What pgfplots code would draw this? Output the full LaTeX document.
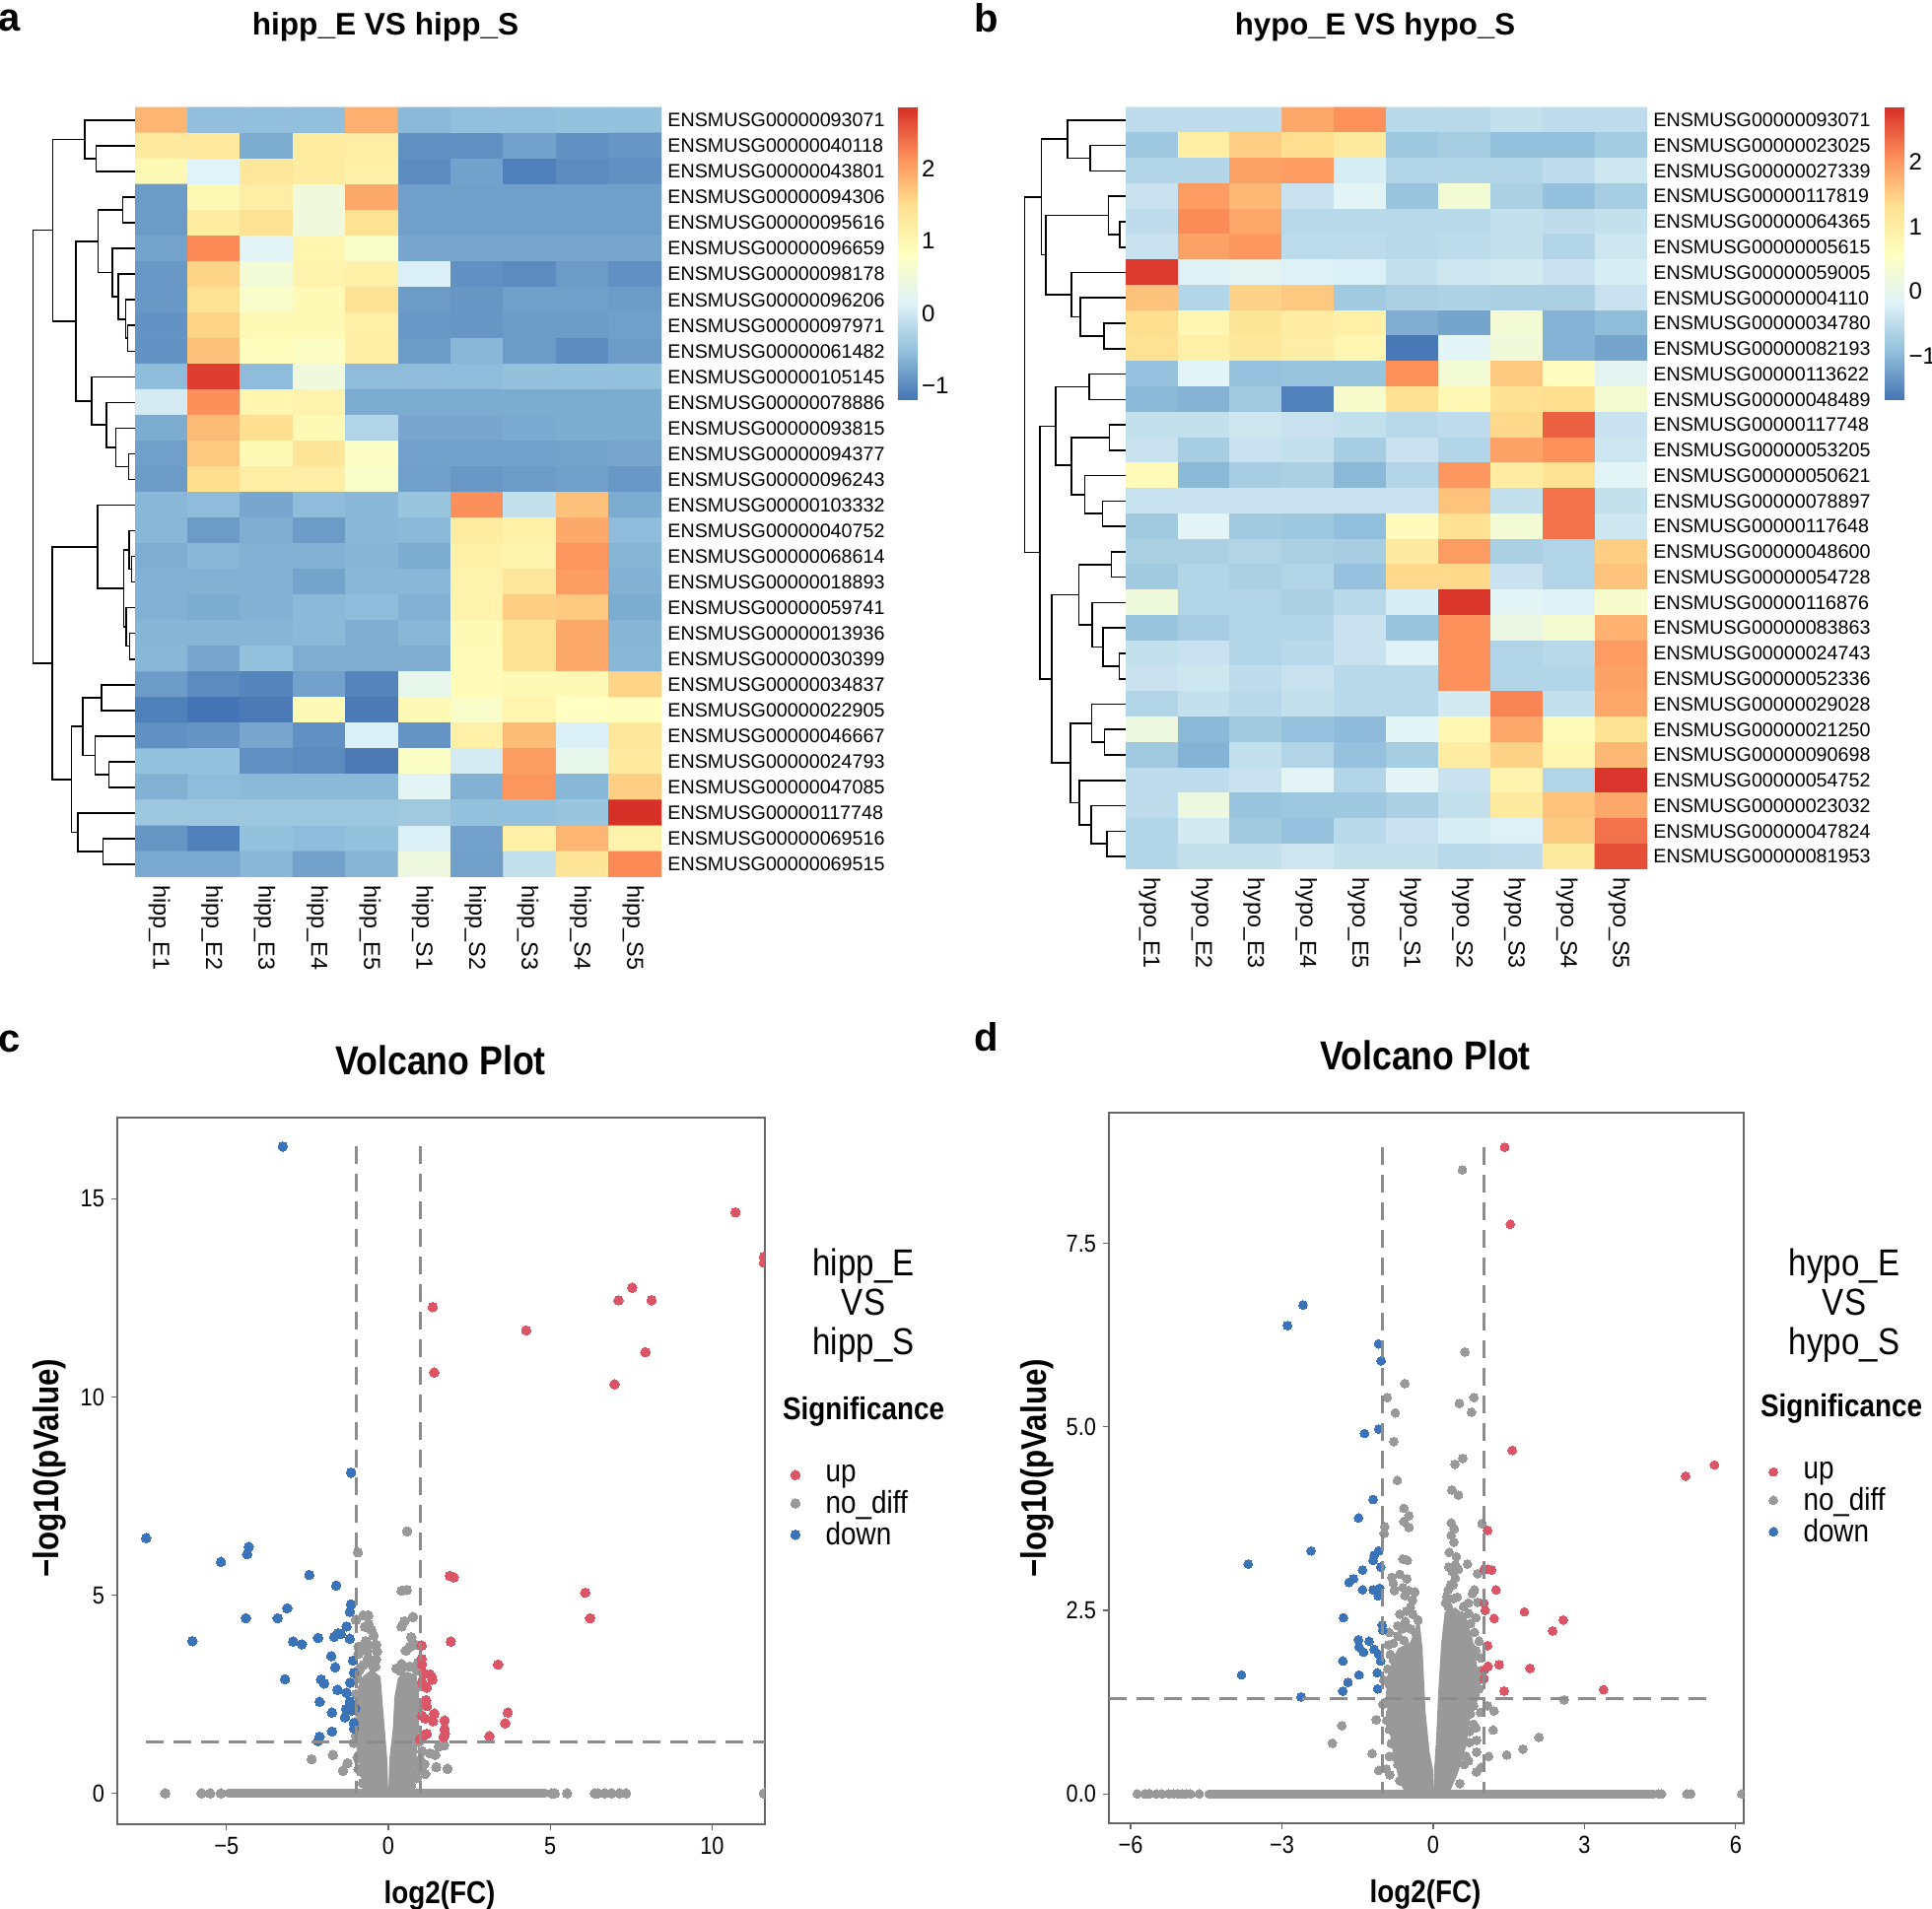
\documentclass[border=0pt]{standalone}
\usepackage{fontspec}
\usepackage{graphicx}
\usepackage{pgfplots}
\usepackage{pgfplotstable}
\pgfplotsset{compat=1.18}
\setmainfont{Liberation Sans}
\newfontfamily\cond[FakeStretch=0.87]{Liberation Sans}
\newcommand{\fs}[1]{\fontsize{#1}{#1}\selectfont}
% text placed by its position in reference pixels
\newcommand{\T}[5][]{\node[font=#4,#1] at ({#2*0.5pt},{(1937-#3)*0.5pt}) {#5};}
\definecolor{volgray}{HTML}{999999}
\definecolor{volblue}{HTML}{3B73B8}
\definecolor{volred}{HTML}{DB5567}
\definecolor{dashgray}{HTML}{8C8C8C}
\definecolor{axgray}{HTML}{666666}

% heatmap values, one row per gene
\pgfplotstableread[row sep=\\]{v\\
1.85\\-0.52\\-0.52\\-0.52\\1.9\\-0.58\\-0.52\\-0.52\\-0.5\\-0.5\\
1.3\\1.3\\-0.7\\1.25\\1.2\\-0.95\\-0.95\\-0.8\\-0.95\\-0.9\\
0.95\\0.15\\1.35\\1.25\\1.15\\-1.0\\-0.8\\-1.1\\-1.0\\-0.95\\
-0.85\\0.95\\1.2\\0.5\\1.95\\-0.82\\-0.82\\-0.82\\-0.82\\-0.82\\
-0.85\\1.25\\1.45\\0.5\\1.45\\-0.82\\-0.82\\-0.82\\-0.82\\-0.82\\
-0.78\\2.2\\0.2\\1.05\\0.7\\-0.75\\-0.75\\-0.75\\-0.75\\-0.75\\
-0.88\\1.6\\0.55\\1.1\\1.15\\0.1\\-0.95\\-1.0\\-0.85\\-0.95\\
-0.88\\1.45\\0.7\\0.95\\1.45\\-0.85\\-0.9\\-0.82\\-0.82\\-0.85\\
-0.93\\1.6\\0.95\\0.95\\1.15\\-0.88\\-0.9\\-0.85\\-0.85\\-0.82\\
-0.93\\1.75\\0.85\\0.75\\1.2\\-0.85\\-0.6\\-0.85\\-1.0\\-0.85\\
-0.55\\2.75\\-0.55\\0.5\\-0.55\\-0.55\\-0.55\\-0.5\\-0.5\\-0.5\\
0.05\\2.15\\1.05\\1.1\\-0.7\\-0.7\\-0.7\\-0.7\\-0.7\\-0.7\\
-0.7\\1.8\\1.5\\0.95\\-0.25\\-0.75\\-0.75\\-0.72\\-0.7\\-0.7\\
-0.82\\1.7\\0.95\\1.4\\0.75\\-0.8\\-0.8\\-0.8\\-0.78\\-0.75\\
-0.85\\1.5\\1.2\\1.2\\0.7\\-0.82\\-0.88\\-0.85\\-0.82\\-0.88\\
-0.6\\-0.55\\-0.75\\-0.55\\-0.6\\-0.45\\2.15\\-0.1\\1.75\\-0.7\\
-0.6\\-0.85\\-0.68\\-0.85\\-0.6\\-0.58\\1.25\\1.15\\1.95\\-0.55\\
-0.68\\-0.6\\-0.65\\-0.65\\-0.62\\-0.7\\1.15\\1.1\\2.1\\-0.62\\
-0.65\\-0.65\\-0.65\\-0.78\\-0.6\\-0.6\\1.1\\1.35\\2.05\\-0.65\\
-0.65\\-0.7\\-0.65\\-0.58\\-0.55\\-0.65\\1.1\\1.65\\1.7\\-0.7\\
-0.62\\-0.62\\-0.62\\-0.58\\-0.68\\-0.6\\0.95\\1.45\\1.95\\-0.62\\
-0.6\\-0.75\\-0.5\\-0.68\\-0.68\\-0.68\\0.9\\1.45\\1.95\\-0.6\\
-0.85\\-1.0\\-1.05\\-0.8\\-1.05\\0.3\\0.9\\0.95\\0.95\\1.6\\
-1.1\\-1.2\\-1.15\\0.95\\-1.15\\0.95\\0.7\\1.05\\0.8\\0.85\\
-0.95\\-0.92\\-0.75\\-0.95\\0.1\\-0.92\\1.15\\1.8\\0.1\\1.35\\
-0.5\\-0.5\\-0.95\\-1.0\\-1.15\\0.75\\0.05\\2.05\\0.3\\1.3\\
-0.65\\-0.55\\-0.58\\-0.58\\-0.58\\0.2\\-0.65\\2.1\\-0.6\\1.65\\
-0.42\\-0.42\\-0.42\\-0.42\\-0.42\\-0.4\\-0.5\\-0.5\\-0.45\\2.85\\
-0.9\\-1.1\\-0.5\\-0.55\\-0.5\\0.1\\-0.8\\1.15\\1.85\\1.1\\
-0.72\\-0.72\\-0.6\\-0.8\\-0.62\\0.45\\-0.82\\-0.1\\1.4\\2.2\\
}\heatA

\pgfplotstableread[row sep=\\]{v\\
-0.5\\-0.5\\-0.5\\1.85\\2.05\\-0.55\\-0.55\\-0.45\\-0.5\\-0.5\\
-0.8\\1.0\\1.5\\1.35\\1.1\\-0.8\\-0.72\\-0.9\\-0.9\\-0.75\\
-0.6\\-0.6\\1.9\\1.95\\-0.25\\-0.6\\-0.6\\-0.6\\-0.5\\-0.35\\
-0.4\\1.95\\1.7\\-0.4\\-0.12\\-0.85\\0.3\\-0.68\\-0.9\\-0.72\\
-0.5\\2.1\\1.85\\-0.55\\-0.55\\-0.55\\-0.55\\-0.45\\-0.5\\-0.45\\
-0.4\\1.9\\2.0\\-0.52\\-0.52\\-0.55\\-0.52\\-0.45\\-0.62\\-0.35\\
2.75\\-0.2\\-0.08\\-0.2\\-0.22\\-0.45\\-0.35\\-0.3\\-0.4\\-0.25\\
1.6\\-0.6\\1.45\\1.55\\-0.77\\-0.68\\-0.65\\-0.68\\-0.68\\-0.4\\
1.35\\0.8\\1.2\\1.05\\0.95\\-1.1\\-1.2\\0.3\\-1.05\\-0.95\\
1.3\\0.95\\1.15\\1.0\\0.8\\-1.65\\-0.12\\0.25\\-1.05\\-1.2\\
-0.88\\-0.12\\-0.88\\-0.85\\-0.85\\2.05\\0.3\\1.55\\0.55\\-0.08\\
-1.0\\-1.05\\-0.77\\-1.55\\0.4\\1.3\\0.75\\1.3\\1.35\\0.35\\
-0.45\\-0.45\\-0.35\\-0.4\\-0.45\\-0.55\\-0.5\\1.4\\2.45\\-0.4\\
-0.4\\-0.72\\-0.4\\-0.45\\-0.72\\-0.4\\-0.62\\1.9\\2.05\\-0.35\\
0.7\\-1.0\\-0.72\\-0.68\\-1.0\\-0.6\\2.0\\1.05\\1.25\\-0.12\\
-0.42\\-0.4\\-0.4\\-0.4\\-0.4\\-0.4\\1.6\\-0.45\\2.3\\-0.45\\
-0.77\\-0.12\\-0.77\\-0.8\\-0.92\\0.65\\1.3\\0.3\\2.3\\-0.35\\
-0.68\\-0.68\\-0.62\\-0.68\\-0.72\\1.1\\1.95\\-0.68\\-0.62\\1.5\\
-0.77\\-0.6\\-0.68\\-0.62\\-0.88\\1.4\\1.4\\-0.4\\-0.62\\1.6\\
0.2\\-0.62\\-0.62\\-0.68\\-0.55\\-0.25\\2.8\\-0.12\\-0.2\\0.4\\
-0.85\\-0.72\\-0.62\\-0.6\\-0.4\\-0.85\\2.05\\0.1\\0.35\\1.75\\
-0.45\\-0.4\\-0.62\\-0.55\\-0.4\\-0.2\\2.05\\-0.62\\-0.55\\1.95\\
-0.4\\-0.35\\-0.5\\-0.4\\-0.55\\-0.55\\2.05\\-0.6\\-0.6\\1.9\\
-0.62\\-0.45\\-0.55\\-0.45\\-0.55\\-0.55\\-0.3\\2.15\\-0.45\\1.85\\
0.15\\-1.0\\-0.77\\-0.88\\-0.97\\-0.12\\0.75\\1.85\\0.65\\1.25\\
-0.77\\-1.05\\-0.45\\-0.62\\-0.88\\-0.72\\1.05\\1.45\\0.8\\1.7\\
-0.5\\-0.5\\-0.4\\-0.12\\-0.6\\-0.12\\-0.4\\0.85\\-0.62\\2.8\\
-0.5\\0.15\\-0.85\\-0.8\\-0.8\\-0.68\\-0.45\\1.1\\1.6\\1.85\\
-0.6\\-0.3\\-0.77\\-0.88\\-0.55\\-0.4\\-0.25\\-0.2\\1.55\\2.3\\
-0.6\\-0.45\\-0.45\\-0.35\\-0.45\\-0.45\\-0.55\\-0.5\\1.1\\2.6\\
}\heatB

\pgfplotsset{
  colormap={rdylbu}{rgb255=(69,117,180) rgb255=(145,191,219) rgb255=(224,243,248) rgb255=(255,255,191) rgb255=(254,224,144) rgb255=(252,141,89) rgb255=(215,48,39)},
  heat/.style={
    scale only axis,y dir=reverse,anchor=south west,
    xmin=0.5,xmax=10.5,ymin=0.5,ymax=30.5,
    axis line style={draw=none},major tick length=0pt,
    xtick={1,...,10},ytick={1,...,30},
    yticklabel pos=right,xticklabel pos=lower,
    yticklabel style={font=\fs{9.85},inner sep=1pt,xshift=2pt},
    xticklabel style={font=\fs{11.7},rotate=-90,anchor=west,inner sep=1pt,xshift=3pt,yshift=-1pt},
    colormap name=rdylbu,point meta=explicit,
    colorbar,
  },
  bar/.style={
    scale only axis,axis line style={draw=none},major tick length=0pt,
    width=10pt,height=148.5pt,anchor=north west,
    yticklabel pos=right,ytick={-1,0,1,2},yticklabels={−1,0,1,2},
    yticklabel style={font=\fs{12},inner sep=1pt,xshift=1pt},
  },
  dendro/.style={
    scale only axis,hide axis,anchor=south west,y dir=reverse,
    ymin=0.5,ymax=30.5,unbounded coords=jump,clip=false,
  },
  volcano/.style={
    scale only axis,anchor=south west,axis line style={axgray,line width=0.7pt},
    tick style={axgray,line width=0.6pt},major tick length=3pt,tick align=outside,
    xtick pos=lower,ytick pos=left,clip marker paths=true,
    tick label style={font=\cond\fs{12.5}},
    legend style={draw=none,fill=none,font=\cond\fs{16},legend cell align=left,row sep=-1.2pt,column sep=11pt},
  },
  pts/.style 2 args={only marks,mark=*,mark size=#2,color=#1,mark options={draw=#1,fill=#1,line width=0pt}},
  dl/.style={forget plot,no marks,color=dashgray,line width=1.5pt,dash pattern=on 9pt off 5pt},
}

\begin{document}
\begin{tikzpicture}
\path[use as bounding box] (0,0) rectangle (980pt,968.5pt);

% panel a
\begin{axis}[dendro,at={(10pt,523.5pt)},width=58.5pt,height=390.5pt,xmin=0,xmax=350]
\addplot[black,line width=0.8pt] coordinates {
(350,2)(232,2)(232,3)(350,3)(nan,nan)
(350,1)(197,1)(197,2.5)(232,2.5)(nan,nan)
(350,4)(312,4)(312,5)(350,5)(nan,nan)
(350,9)(328,9)(328,10)(350,10)(nan,nan)
(350,8)(322,8)(322,9.5)(328,9.5)(nan,nan)
(350,7)(300,7)(300,8.75)(322,8.75)(nan,nan)
(350,6)(282,6)(282,7.875)(300,7.875)(nan,nan)
(312,4.5)(238,4.5)(238,6.94)(282,6.94)(nan,nan)
(350,14)(331,14)(331,15)(350,15)(nan,nan)
(350,13)(292,13)(292,14.5)(331,14.5)(nan,nan)
(350,12)(263,12)(263,13.75)(292,13.75)(nan,nan)
(350,11)(218,11)(218,12.875)(263,12.875)(nan,nan)
(238,5.72)(170,5.72)(170,11.94)(218,11.94)(nan,nan)
(197,1.75)(100,1.75)(100,8.83)(170,8.83)(nan,nan)
(350,18)(340,18)(340,19)(350,19)(nan,nan)
(350,17)(332,17)(332,18.5)(340,18.5)(nan,nan)
(350,21)(334,21)(334,22)(350,22)(nan,nan)
(350,20)(323,20)(323,21.5)(334,21.5)(nan,nan)
(332,17.75)(315,17.75)(315,20.75)(323,20.75)(nan,nan)
(350,16)(237,16)(237,19.25)(315,19.25)(nan,nan)
(350,23)(248,23)(248,24)(350,24)(nan,nan)
(350,26)(271,26)(271,27)(350,27)(nan,nan)
(350,25)(229,25)(229,26.5)(271,26.5)(nan,nan)
(248,23.5)(192,23.5)(192,25.75)(229,25.75)(nan,nan)
(350,29)(253,29)(253,30)(350,30)(nan,nan)
(350,28)(176,28)(176,29.5)(253,29.5)(nan,nan)
(192,24.625)(157,24.625)(157,28.75)(176,28.75)(nan,nan)
(237,17.625)(99,17.625)(99,26.69)(157,26.69)(nan,nan)
(100,5.29)(40,5.29)(40,22.16)(99,22.16)
};
\end{axis}

\begin{axis}[heat,at={(68.5pt,523.5pt)},width=267pt,height=390.5pt,
  point meta min=-1.2,point meta max=2.85,
  colorbar style={bar,at={(1.449,1)}},
  xticklabels={hipp\_E1,hipp\_E2,hipp\_E3,hipp\_E4,hipp\_E5,hipp\_S1,hipp\_S2,hipp\_S3,hipp\_S4,hipp\_S5},
  yticklabels={ENSMUSG00000093071,ENSMUSG00000040118,ENSMUSG00000043801,ENSMUSG00000094306,ENSMUSG00000095616,ENSMUSG00000096659,ENSMUSG00000098178,ENSMUSG00000096206,ENSMUSG00000097971,ENSMUSG00000061482,ENSMUSG00000105145,ENSMUSG00000078886,ENSMUSG00000093815,ENSMUSG00000094377,ENSMUSG00000096243,ENSMUSG00000103332,ENSMUSG00000040752,ENSMUSG00000068614,ENSMUSG00000018893,ENSMUSG00000059741,ENSMUSG00000013936,ENSMUSG00000030399,ENSMUSG00000034837,ENSMUSG00000022905,ENSMUSG00000046667,ENSMUSG00000024793,ENSMUSG00000047085,ENSMUSG00000117748,ENSMUSG00000069516,ENSMUSG00000069515},
]
\addplot[matrix plot*,mesh/cols=10,point meta=explicit]
  table[x index=0,y index=0,x expr={mod(\coordindex,10)+1},y expr={floor((\coordindex+0.5)/10)+1},meta=v]{\heatA};
\end{axis}

% panel b
\begin{axis}[dendro,at={(515pt,527.5pt)},width=56.2pt,height=386.5pt,xmin=0,xmax=337]
\addplot[black,line width=0.8pt] coordinates {
(337,2)(227,2)(227,3)(337,3)(nan,nan)
(337,1)(159,1)(159,2.5)(227,2.5)(nan,nan)
(337,5)(317,5)(317,6)(337,6)(nan,nan)
(337,4)(283,4)(283,5.5)(317,5.5)(nan,nan)
(337,9)(270,9)(270,10)(337,10)(nan,nan)
(337,8)(198,8)(198,9.5)(270,9.5)(nan,nan)
(337,7)(170,7)(170,8.75)(198,8.75)(nan,nan)
(283,4.75)(93,4.75)(93,7.875)(170,7.875)(nan,nan)
(159,1.75)(80,1.75)(80,6.31)(93,6.31)(nan,nan)
(337,11)(225,11)(225,12)(337,12)(nan,nan)
(337,13)(286,13)(286,14)(337,14)(nan,nan)
(337,16)(265,16)(265,17)(337,17)(nan,nan)
(337,15)(211,15)(211,16.5)(265,16.5)(nan,nan)
(286,13.5)(171,13.5)(171,15.75)(211,15.75)(nan,nan)
(225,11.5)(123,11.5)(123,14.6)(171,14.6)(nan,nan)
(337,18)(292,18)(292,19)(337,19)(nan,nan)
(337,22)(316,22)(316,23)(337,23)(nan,nan)
(337,21)(267,21)(267,22.5)(316,22.5)(nan,nan)
(337,20)(234,20)(234,21.75)(267,21.75)(nan,nan)
(292,18.5)(193,18.5)(193,20.875)(234,20.875)(nan,nan)
(337,25)(271,25)(271,26)(337,26)(nan,nan)
(337,24)(232,24)(232,25.5)(271,25.5)(nan,nan)
(337,29)(279,29)(279,30)(337,30)(nan,nan)
(337,28)(231,28)(231,29.5)(279,29.5)(nan,nan)
(337,27)(195,27)(195,28.75)(231,28.75)(nan,nan)
(232,24.75)(168,24.75)(168,27.875)(195,27.875)(nan,nan)
(193,19.69)(110,19.69)(110,26.3)(168,26.3)(nan,nan)
(123,13.06)(75,13.06)(75,23)(110,23)(nan,nan)
(80,4.03)(28,4.03)(28,18.03)(75,18.03)
};
\end{axis}

\begin{axis}[heat,at={(571pt,527.5pt)},width=264.5pt,height=386.5pt,
  point meta min=-1.68,point meta max=2.84,
  colorbar style={bar,at={(1.456,1)}},
  xticklabels={hypo\_E1,hypo\_E2,hypo\_E3,hypo\_E4,hypo\_E5,hypo\_S1,hypo\_S2,hypo\_S3,hypo\_S4,hypo\_S5},
  yticklabels={ENSMUSG00000093071,ENSMUSG00000023025,ENSMUSG00000027339,ENSMUSG00000117819,ENSMUSG00000064365,ENSMUSG00000005615,ENSMUSG00000059005,ENSMUSG00000004110,ENSMUSG00000034780,ENSMUSG00000082193,ENSMUSG00000113622,ENSMUSG00000048489,ENSMUSG00000117748,ENSMUSG00000053205,ENSMUSG00000050621,ENSMUSG00000078897,ENSMUSG00000117648,ENSMUSG00000048600,ENSMUSG00000054728,ENSMUSG00000116876,ENSMUSG00000083863,ENSMUSG00000024743,ENSMUSG00000052336,ENSMUSG00000029028,ENSMUSG00000021250,ENSMUSG00000090698,ENSMUSG00000054752,ENSMUSG00000023032,ENSMUSG00000047824,ENSMUSG00000081953},
]
\addplot[matrix plot*,mesh/cols=10,point meta=explicit]
  table[x index=0,y index=0,x expr={mod(\coordindex,10)+1},y expr={floor((\coordindex+0.5)/10)+1},meta=v]{\heatB};
\end{axis}

% panel c
\begin{axis}[volcano,at={(59.5pt,43pt)},width=328.5pt,height=358.5pt,
  xmin=-8.37,xmax=11.63,ymin=-0.78,ymax=17.05,
  xtick={-5,0,5,10},xticklabels={−5,0,5,10},ytick={0,5,10,15},yticklabels={0,5,10,15},
  legend style={at={(1.03,0.52)},anchor=north west}]
\addlegendimage{pts={volred}{2.4pt}}
\addlegendimage{pts={volgray}{2.4pt}}
\addlegendimage{pts={volblue}{2.4pt}}
\legend{up,no\_diff,down}
\addplot[forget plot,draw=none,fill=volgray] coordinates {(-0.79,0)(-0.85,0.49)(-0.99,1.18)(-0.99,2.09)(-0.95,2.67)(-0.79,2.95)(-0.52,3.12)(-0.24,2.95)(-0.18,2.32)(-0.11,1.64)(-0.03,0.84)(0,0)} \closedcycle;
\addplot[forget plot,draw=none,fill=volgray] coordinates {(0,0)(0.03,0.84)(0.14,1.64)(0.19,2.44)(0.3,2.92)(0.57,3.07)(0.87,2.99)(0.95,2.55)(0.95,1.64)(0.87,0.95)(0.73,0.26)(0.64,0)} \closedcycle;
\addplot[forget plot,no marks,volgray,line width=4.8pt,line cap=round] coordinates {(-4.93,0)(4.84,0)};
\addplot[forget plot,pts={volgray}{2.4pt}] coordinates {
(-8.38,0)(-6.89,0)(-5.77,0)(-5.5,0)(-5.17,0)(5.05,0)(5.14,0)(5.52,0)(6.38,0)(6.47,0)(6.68,0)(6.89,0)(7.14,0)(7.34,0)(11.6,0)
(-0.94,6.08)(0.58,6.61)(0.41,5.11)(0.57,5.13)(0.76,4.45)(0.5,4.34)(0.41,4.21)(-1.0,4.38)(-0.77,4.49)(-0.62,4.49)(-0.72,4.2)(-0.61,4.27)
(-0.52,4.12)(-0.45,3.98)(-0.69,3.84)(-0.38,3.75)(-0.62,3.75)(-0.92,3.7)(-0.35,3.58)(-0.65,3.6)(-0.92,3.52)(-0.38,3.38)(-0.62,3.41)(-0.85,3.18)(-0.45,3.18)
(0.71,3.94)(0.84,3.75)(0.66,3.7)(0.54,3.6)(0.41,3.26)(0.38,3.09)(0.79,3.18)(0.92,3.3)
(-2.37,0.86)(-1.71,0.97)(-1.26,0.76)(-1.40,0.57)(-1.06,1.27)(-0.92,0.95)(-0.92,0.61)(-0.79,0.26)
(1.56,1.18)(1.72,1.21)(1.28,1.01)(1.45,0.97)(1.11,0.74)(1.48,0.66)(1.83,0.62)(1.14,0.49)(1.04,1.41)(1.04,1.06)(0.98,0.84)(0.87,0.38)(0.94,0.61)
(-0.95,2.9)(-0.9,3.1)(-0.75,3.25)(-0.6,3.3)(-0.4,3.2)(0.25,3.15)(0.45,3.2)(0.65,3.2)(0.9,3.1)(0.98,2.7)(0.98,2.2)(-1.0,2.5)(-1.02,1.8)(-1.0,1.45)(-0.95,0.9)(-0.85,0.55)(0.95,1.3)(0.9,0.8)(0.8,0.45)(0.7,0.2)
};
\addplot[forget plot,pts={volblue}{2.4pt}] coordinates {
(-3.26,16.32)(-1.15,8.09)(-7.48,6.44)(-4.31,6.22)(-4.36,6.03)(-5.17,5.84)(-2.44,5.51)(-1.61,5.24)(-1.15,4.77)(-1.19,4.58)(-3.12,4.67)
(-4.4,4.42)(-3.42,4.42)(-1.29,4.21)(-6.05,3.84)(-2.94,3.83)(-2.67,3.76)(-2.17,3.92)(-1.67,3.95)(-1.56,4.04)(-1.47,4.02)(-1.19,3.90)
(-1.76,3.46)(-1.09,3.35)(-1.64,3.18)(-1.06,3.04)(-3.19,2.88)(-2.08,2.87)(-1.98,2.77)(-1.18,2.79)(-1.57,2.61)(-1.29,2.54)(-1.19,2.32)
(-2.12,2.31)(-1.02,2.15)(-1.30,2.13)(-1.74,2.04)(-1.13,2.09)(-1.34,1.92)(-1.06,1.77)(-1.06,1.64)(-1.74,1.56)(-2.12,1.43)(-2.17,1.32)
};
\addplot[forget plot,pts={volred}{2.4pt}] coordinates {
(10.72,14.66)(11.6,13.54)(11.6,13.39)(7.53,12.76)(7.11,12.44)(8.13,12.44)(1.37,12.27)(4.26,11.68)(7.94,11.13)(1.42,10.62)(6.99,10.32)
(1.9,5.49)(2.02,5.45)(6.08,5.06)(6.23,4.42)(1.93,3.83)(1.03,3.73)(3.39,3.25)(1.03,3.39)(1.04,3.26)(1.09,3.03)(1.29,3.0)(1.36,2.87)(1.04,2.8)
(1.19,2.67)(1.17,2.35)(1.19,2.2)(1.42,2.01)(3.69,2.04)(1.04,1.96)(1.13,1.89)(1.38,1.82)(1.74,1.84)(3.61,1.77)(1.74,1.62)(1.75,1.5)(1.19,1.5)
(1.09,1.46)(1.71,1.42)(3.12,1.44)(0.98,1.37)
};
\addplot[dl] coordinates {(-7.48,1.3)(11.63,1.3)};
\addplot[dl] coordinates {(-1,16.32)(-1,0)};
\addplot[dl] coordinates {(1,16.32)(1,0)};
\end{axis}

% panel d
\begin{axis}[volcano,at={(562.5pt,43.5pt)},width=322pt,height=360.5pt,
  xmin=-6.43,xmax=6.16,ymin=-0.4,ymax=9.28,
  xtick={-6,-3,0,3,6},xticklabels={−6,−3,0,3,6},ytick={0,2.5,5,7.5},yticklabels={0.0,2.5,5.0,7.5},
  legend style={at={(1.03,0.52)},anchor=north west}]
\addlegendimage{pts={volred}{2.2pt}}
\addlegendimage{pts={volgray}{2.2pt}}
\addlegendimage{pts={volblue}{2.2pt}}
\legend{up,no\_diff,down}
\addplot[forget plot,draw=none,fill=volgray] coordinates {(-0.53,0)(-0.66,0.14)(-0.79,0.51)(-0.87,0.88)(-0.94,1.37)(-0.83,1.8)(-0.7,1.98)(-0.45,2.07)(-0.28,2.42)(-0.21,1.98)(-0.15,1.12)(-0.07,0.57)(0,0.33)(0,0)} \closedcycle;
\addplot[forget plot,draw=none,fill=volgray] coordinates {(0,0)(0.02,0.33)(0.06,0.76)(0.1,1.37)(0.16,2.05)(0.23,2.48)(0.44,2.54)(0.65,2.42)(0.78,2.12)(0.95,1.43)(0.91,1.31)(0.74,1.06)(0.65,0.63)(0.48,0.26)(0.31,0)} \closedcycle;
\addplot[forget plot,no marks,volgray,line width=4.4pt,line cap=round] coordinates {(-4.45,0)(4.38,0)};
\addplot[forget plot,pts={volgray}{2.2pt}] coordinates {
(-6.44,0)(-5.87,0)(-5.72,0)(-5.64,0)(-5.62,0)(-5.49,0)(-5.38,0)(-5.24,0)(-5.15,0)(-5.07,0)(-4.98,0)(-4.9,0)(-4.81,0)(-4.64,0)(4.47,0)(4.53,0)(5.03,0)(5.11,0)(6.12,0)
(0.58,8.5)(0.63,6.02)(-0.56,5.59)(-0.91,5.40)(0.81,5.40)(0.52,5.32)(0.76,5.2)(-0.75,5.19)(-0.78,4.8)(0.59,4.57)(0.43,4.49)(-0.71,4.27)(0.37,4.14)(0.5,4.07)
(-0.58,3.89)(-0.48,3.79)(-0.58,3.71)(-0.48,3.63)(-0.96,3.64)(-0.97,3.55)(0.36,3.69)(0.42,3.61)(0.36,3.52)(0.41,3.43)(0.97,3.68)(-0.6,3.2)(-0.51,3.18)(0.32,3.29)(0.46,3.23)
(0.31,3.09)(0.44,3.12)(0.5,3.06)(0.38,3.03)(0.68,3.13)(0.88,3.0)(0.44,2.94)(0.4,2.85)
(-0.66,2.99)(-0.52,2.93)(-0.82,2.95)(-0.79,2.87)(-0.6,2.81)(-0.77,2.77)(-0.49,2.77)(-0.36,2.75)(-0.56,2.7)(-0.41,2.64)
(0.3,2.78)(0.27,2.69)(0.4,2.66)(0.48,2.68)(0.78,2.73)(0.82,2.78)(0.88,2.61)
(-0.45,2.54)(-0.53,2.49)(-0.66,2.45)(-0.41,2.45)(-0.7,2.29)(-0.3,2.37)(-0.87,2.2)
(0.7,2.46)(0.85,2.4)(0.57,2.42)(0.74,2.32)(0.91,2.08)(0.82,2.2)(0.65,2.2)
(-0.79,2.05)(-0.58,2.09)(-0.89,2.03)
(-0.79,1.83)(-0.87,1.49)(-0.92,1.25)(-1.0,1.22)(-1.13,1.01)(-0.92,1.0)(-0.87,0.88)(-0.83,0.69)(-0.79,0.51)(-0.87,0.51)(-1.21,0.55)(-1.08,0.32)(-0.93,0.34)(-0.86,0.26)(-0.66,0.18)
(-1.81,0.93)(-2.0,0.69)(1.08,1.2)(1.21,1.13)(0.94,1.11)(1.19,0.87)
(0.74,1.09)(0.72,0.85)(0.86,0.73)(0.86,0.57)(0.65,0.51)(0.95,0.36)(0.86,0.3)(0.53,0.14)
(1.10,0.51)(1.46,0.53)(1.78,0.61)(2.1,0.77)(2.6,1.28)(0.91,1.43)(0.95,1.68)(0.74,1.74)(0.82,1.89)(0.95,1.85)
(-0.85,1.9)(-0.9,1.7)(-0.98,1.55)(-0.82,1.6)(-0.7,2.15)(-0.6,2.25)(-0.45,2.25)(-0.35,2.2)(-0.55,2.35)
(0.75,2.0)(0.85,1.95)(0.95,1.6)(0.9,1.55)(0.6,2.55)(0.55,2.3)(0.7,2.6)(0.3,2.55)(0.25,2.6)(0.35,2.85)
(-0.85,1.1)(-0.8,0.9)(-0.75,0.75)(-0.7,0.4)(-0.6,0.2)(0.8,0.95)(0.72,0.7)(0.62,0.4)(0.7,0.45)(0.85,0.9)(0.8,1.2)
};
\addplot[forget plot,pts={volblue}{2.2pt}] coordinates {
(-6.44,7.57)(-2.58,6.66)(-2.89,6.38)(-1.08,6.13)(-1.03,5.90)(-1.08,4.97)(-1.36,4.91)(-1.19,4.01)(-1.48,3.76)(-2.42,3.31)(-3.67,3.13)
(-1.08,3.31)(-1.17,3.25)(-1.19,3.18)(-1.04,3.09)(-1.40,3.05)(-1.58,2.93)(-1.67,2.88)(-1.40,2.78)(-1.19,2.78)(-1.06,2.80)(-1.09,2.70)
(-1.78,2.40)(-1.01,2.30)(-1.0,2.23)(-1.48,2.10)(-1.27,2.08)(-1.47,2.0)(-1.17,1.97)(-1.38,1.93)(-1.08,1.90)(-1.04,1.81)(-1.79,1.81)
(-1.11,1.65)(-1.47,1.62)(-3.80,1.62)(-1.69,1.52)(-1.10,1.43)(-1.79,1.40)(-2.62,1.32)
};
\addplot[forget plot,pts={volred}{2.2pt}] coordinates {
(1.42,8.81)(1.53,7.76)(1.57,4.68)(5.58,4.48)(5.01,4.33)(1.08,3.59)(1.01,3.06)(1.09,3.06)(1.16,3.05)(1.25,2.78)(1.01,2.6)(1.03,2.5)
(1.81,2.48)(1.21,2.39)(2.58,2.37)(2.37,2.22)(1.08,2.02)(1.31,1.76)(1.09,1.74)(1.02,1.69)(1.92,1.71)(1.01,1.57)(1.41,1.40)(3.38,1.42)
};
\addplot[dl] coordinates {(-6.43,1.3)(5.6,1.3)};
\addplot[dl] coordinates {(-1,8.81)(-1,0)};
\addplot[dl] coordinates {(1,8.81)(1,0)};
\end{axis}

% titles and other text
\T{10}{21}{\bfseries\fs{20}}{a}
\T{1001}{18}{\bfseries\fs{20}}{b}
\T{10}{1057}{\bfseries\fs{20}}{c}
\T{1001}{1052}{\bfseries\fs{20}}{d}
\T{391}{27}{\bfseries\fs{15.8}}{hipp\_E VS hipp\_S}
\T{1395}{27}{\bfseries\fs{15.6}}{hypo\_E VS hypo\_S}
\T{447}{1076}{\cond\bfseries\fs{20.5}}{Volcano Plot}
\T{1446}{1071}{\cond\bfseries\fs{20.5}}{Volcano Plot}
\T{446}{1923}{\cond\bfseries\fs{16}}{log2(FC)}
\T{1446}{1922}{\cond\bfseries\fs{16}}{log2(FC)}
\T[rotate=90]{50}{1490}{\cond\bfseries\fs{18}}{−log10(pValue)}
\T[rotate=90]{1052}{1490}{\cond\bfseries\fs{18}}{−log10(pValue)}
\T{876}{1285}{\cond\fs{19}}{hipp\_E}
\T{876}{1321}{\cond\fs{19}}{VS}
\T{876}{1365}{\cond\fs{19}}{hipp\_S}
\T{1871}{1285}{\cond\fs{19}}{hypo\_E}
\T{1871}{1321}{\cond\fs{19}}{VS}
\T{1871}{1365}{\cond\fs{19}}{hypo\_S}
\T{876}{1432}{\cond\bfseries\fs{16}}{Significance}
\T{1868}{1429}{\cond\bfseries\fs{16}}{Significance}
\end{tikzpicture}
\end{document}
